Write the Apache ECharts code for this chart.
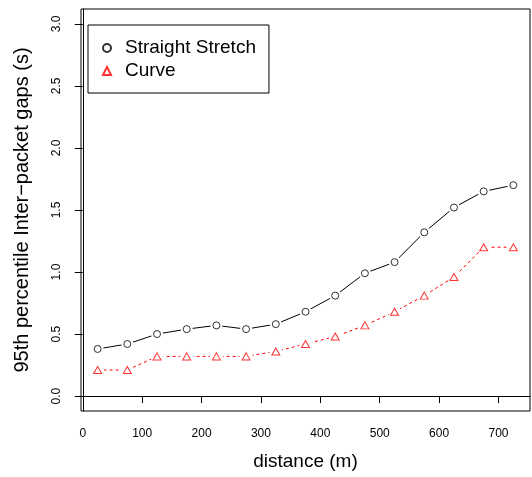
<!DOCTYPE html>
<html>
<head>
<meta charset="utf-8">
<script src="https://cdn.jsdelivr.net/npm/echarts@6/dist/echarts.min.js"></script>
<style>
html,body{margin:0;padding:0;background:#fff;}
#chart{width:532px;height:477px;}
</style>
</head>
<body>
<div id="chart"></div>
<script>
var distance = [25, 75, 125, 175, 225, 275, 325, 375, 425, 475, 525, 575, 625, 675, 725];
var straightStretch = [0.38, 0.42, 0.50, 0.54, 0.57, 0.54, 0.58, 0.68, 0.81, 0.99, 1.08, 1.32, 1.52, 1.65, 1.70];
var curve = [0.21, 0.21, 0.32, 0.32, 0.32, 0.32, 0.36, 0.42, 0.48, 0.57, 0.68, 0.81, 0.96, 1.20, 1.20];
var xTicks = [0, 100, 200, 300, 400, 500, 600, 700];
var yTicks = [0, 0.5, 1, 1.5, 2, 2.5, 3];

function pairs(ys) { return distance.map(function (x, i) { return [x, ys[i]]; }); }

var FONT = '"Liberation Sans", Arial, Helvetica, sans-serif';
var chart = echarts.init(document.getElementById('chart'), null, {renderer: 'canvas'});
chart.setOption({
  animation: false,
  backgroundColor: '#fff',
  textStyle: {fontFamily: FONT},
  grid: {left: 81, top: 9, right: 2, bottom: 66, show: true, borderColor: '#000', borderWidth: 1, backgroundColor: 'transparent'},
  xAxis: {
    type: 'value', min: -3, max: 753,
    name: 'distance (m)', nameLocation: 'middle', nameGap: 41,
    nameTextStyle: {fontSize: 19, color: '#000', fontFamily: FONT},
    axisLine: {show: true, lineStyle: {color: '#000', width: 1}},
    axisTick: {show: true, length: 7, lineStyle: {color: '#000'}, customValues: xTicks},
    axisLabel: {show: true, fontSize: 12, color: '#000', margin: 17, fontFamily: FONT, customValues: xTicks},
    splitLine: {show: false}
  },
  yAxis: {
    type: 'value', min: -0.12, max: 3.12,
    name: '95th percentile Inter\u2212packet gaps (s)', nameLocation: 'middle', nameGap: 49,
    nameTextStyle: {fontSize: 20, color: '#000', fontFamily: FONT},
    axisLine: {show: true, lineStyle: {color: '#000', width: 1}},
    axisTick: {show: true, length: 8, lineStyle: {color: '#000'}, customValues: yTicks},
    axisLabel: {show: true, fontSize: 12, color: '#000', margin: 18, rotate: 90, fontFamily: FONT,
      customValues: yTicks, formatter: function (v) { return v.toFixed(1); }},
    splitLine: {show: false}
  },
  legend: {
    data: ['Straight Stretch', 'Curve'],
    orient: 'vertical', left: 88, top: 25,
    backgroundColor: '#fff', borderColor: '#000', borderWidth: 1,
    padding: [12, 13, 11, 14],
    itemGap: 1, itemWidth: 8, itemHeight: 8,
    textStyle: {fontSize: 19, color: '#000', fontFamily: FONT, lineHeight: 22, padding: [0, 0, 0, 9]},
    selectedMode: false
  },
  series: [
    {name: 'ssLine', type: 'line', data: pairs(straightStretch), symbol: 'none', z: 2, silent: true,
      lineStyle: {color: '#000', width: 1}},
    {name: 'ssGap', type: 'scatter', data: pairs(straightStretch), symbol: 'circle', symbolSize: 12, z: 3, silent: true,
      itemStyle: {color: '#fff', opacity: 1}},
    {name: 'cvLine', type: 'line', data: pairs(curve), symbol: 'none', z: 2, silent: true,
      lineStyle: {color: '#ff0000', width: 1, type: [3, 3]}},
    {name: 'cvGap', type: 'scatter', data: pairs(curve), symbol: 'circle', symbolSize: 13, z: 3, silent: true,
      itemStyle: {color: '#fff', opacity: 1}},
    {name: 'Straight Stretch', type: 'scatter', data: pairs(straightStretch), symbol: 'circle', symbolSize: 7, z: 4,
      itemStyle: {color: 'transparent', borderColor: '#000', borderWidth: 1}},
    {name: 'Curve', type: 'scatter', data: pairs(curve), symbol: 'triangle', symbolSize: [8, 7], z: 4,
      itemStyle: {color: 'transparent', borderColor: '#ff0000', borderWidth: 1}}
  ]
});
</script>
</body>
</html>
